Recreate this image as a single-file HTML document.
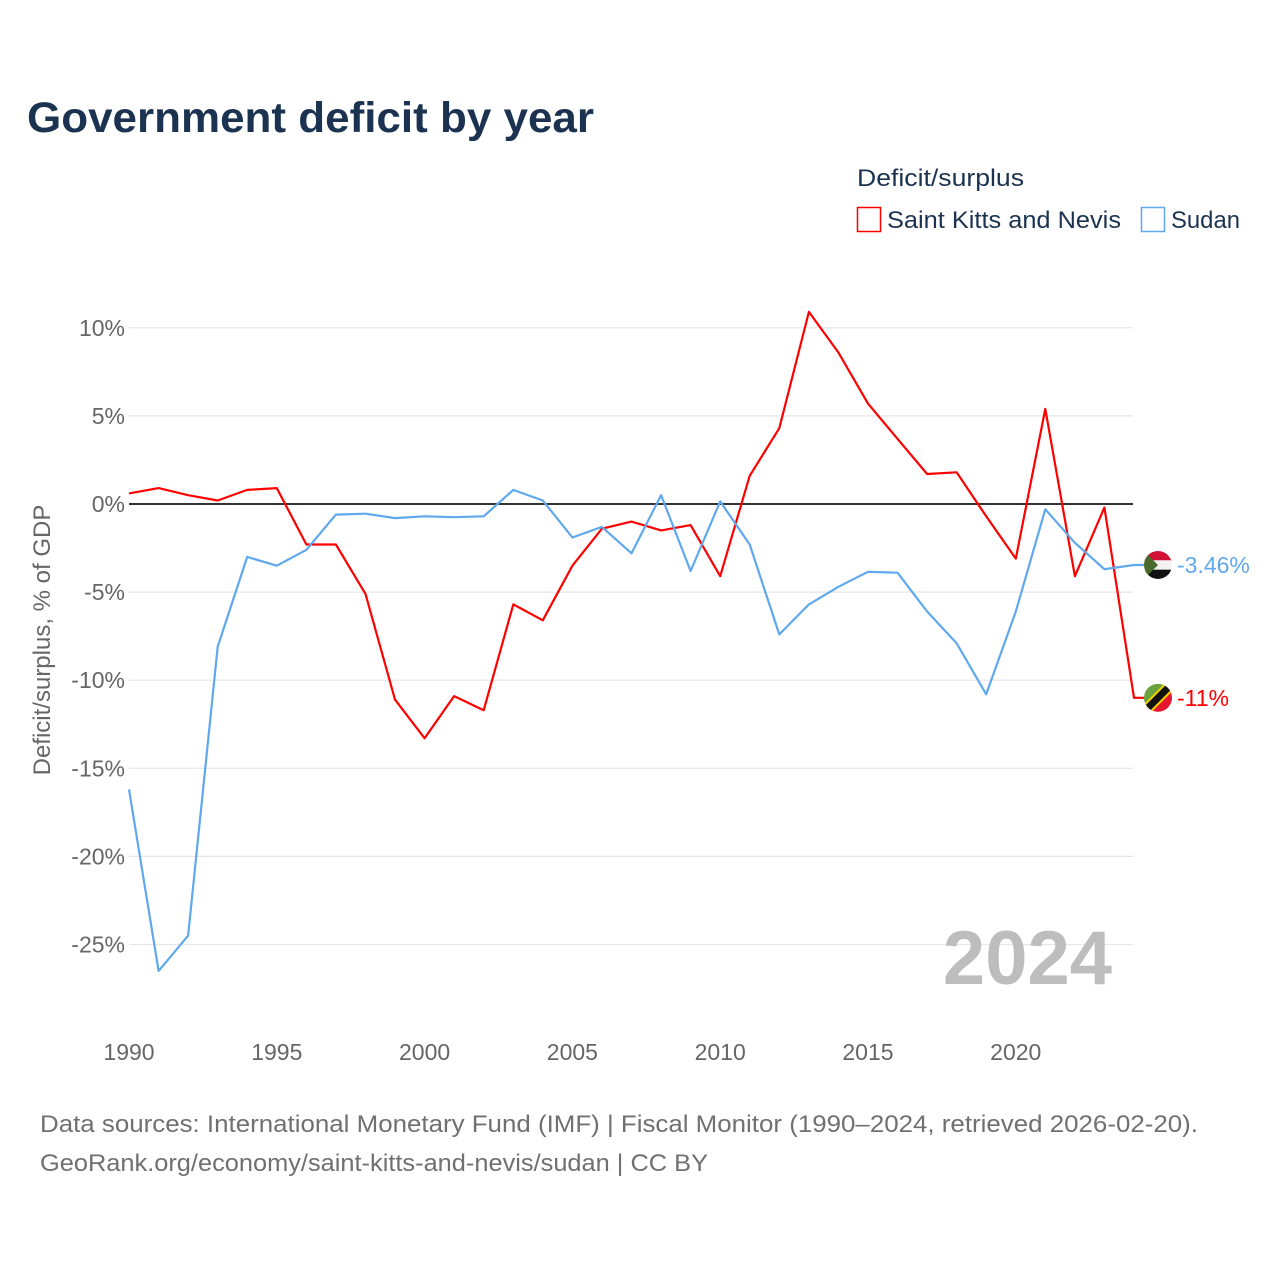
<!DOCTYPE html>
<html><head><meta charset="utf-8"><style>
html,body{margin:0;padding:0;background:#fff;}
svg{display:block;font-family:"Liberation Sans",sans-serif;}
</style></head><body>
<svg id="chart" width="1280" height="1280" viewBox="0 0 1280 1280">
<text x="27" y="132" font-size="43" font-weight="bold" fill="#1b3350" textLength="567" lengthAdjust="spacingAndGlyphs">Government deficit by year</text>
<text x="857" y="186" font-size="24" fill="#1b3350" textLength="167" lengthAdjust="spacingAndGlyphs">Deficit/surplus</text>
<g>
<rect x="857.5" y="207.5" width="23" height="24" fill="none" stroke="#ff0000" stroke-width="1.5"/>
<text x="887" y="228" font-size="24" fill="#1b3350" textLength="234" lengthAdjust="spacingAndGlyphs">Saint Kitts and Nevis</text>
</g>
<g>
<rect x="1141.5" y="207.5" width="23" height="24" fill="none" stroke="#5fa8ee" stroke-width="1.5"/>
<text x="1171" y="228" font-size="24" fill="#1b3350" textLength="69" lengthAdjust="spacingAndGlyphs">Sudan</text>
</g>
<g id="grid"></g>
<g id="yticks"></g>
<g id="xticks"></g>
<text x="1112" y="984" font-size="76" font-weight="bold" fill="#bdbdbd" text-anchor="end">2024</text>
<text transform="translate(50,640) rotate(-90)" font-size="24" fill="#666" text-anchor="middle">Deficit/surplus, % of GDP</text>
<g id="series"></g>
<g id="endmarks"></g>
<text x="40" y="1132" font-size="24" fill="#707070" textLength="1158" lengthAdjust="spacingAndGlyphs">Data sources: International Monetary Fund (IMF) | Fiscal Monitor (1990–2024, retrieved 2026-02-20).</text>
<text x="40" y="1171" font-size="24" fill="#707070" textLength="668" lengthAdjust="spacingAndGlyphs">GeoRank.org/economy/saint-kitts-and-nevis/sudan | CC BY</text>
</svg>
<script>
const years = [1990,1991,1992,1993,1994,1995,1996,1997,1998,1999,2000,2001,2002,2003,2004,2005,2006,2007,2008,2009,2010,2011,2012,2013,2014,2015,2016,2017,2018,2019,2020,2021,2022,2023,2024];
const skn = [0.6,0.9,0.5,0.2,0.8,0.9,-2.3,-2.3,-5.1,-11.1,-13.3,-10.9,-11.7,-5.7,-6.6,-3.5,-1.4,-1.0,-1.5,-1.2,-4.1,1.6,4.3,10.9,8.6,5.7,3.7,1.7,1.8,-0.7,-3.1,5.4,-4.1,-0.2,-11.0];
const sudan = [-16.2,-26.5,-24.5,-8.1,-3.0,-3.5,-2.6,-0.6,-0.55,-0.8,-0.7,-0.75,-0.7,0.8,0.2,-1.9,-1.3,-2.8,0.5,-3.8,0.15,-2.3,-7.4,-5.7,-4.7,-3.85,-3.9,-6.1,-7.9,-10.8,-6.1,-0.3,-2.2,-3.7,-3.46];
const yTicks = [10,5,0,-5,-10,-15,-20,-25];
const yTickLabels = ["10%","5%","0%","-5%","-10%","-15%","-20%","-25%"];
const xTicks = [1990,1995,2000,2005,2010,2015,2020];
const endLabels = ["-11%","-3.46%"];

const NS="http://www.w3.org/2000/svg";
const x = v => 129 + (v-1990)*(1134-129)/34;
const y = v => 504 - v*17.62;
function mk(tag, attrs, parent){const e=document.createElementNS(NS,tag);for(const k in attrs)e.setAttribute(k,attrs[k]);parent.appendChild(e);return e;}
const grid=document.getElementById('grid'), yt=document.getElementById('yticks'), xt=document.getElementById('xticks');
yTicks.forEach((t,i)=>{
  const l=mk('line',{x1:129,x2:1133,y1:y(t),y2:y(t),stroke:t===0?'#333':'#e6e6e6','stroke-width':t===0?2:1.2},grid);
  
  
  const tx=mk('text',{x:125,y:y(t)+8,'font-size':23,fill:'#666','text-anchor':'end'},yt);
  tx.textContent=yTickLabels[i];
  
  
});
xTicks.forEach(t=>{
  const tx=mk('text',{x:x(t),y:1060,'font-size':23,fill:'#666','text-anchor':'middle'},xt);
  tx.textContent=t;
  
  
});
const ser=document.getElementById('series');
[[skn,'#ff0000','line-saint-kitts'],[sudan,'#5fa8ee','line-sudan']].forEach(([d,c,n])=>{
  let p=d.map((v,i)=>(i?'L':'M')+x(years[i]).toFixed(1)+','+y(v).toFixed(1)).join(' ');
  p+=' L1145,'+y(d[d.length-1]).toFixed(1);
  const e=mk('path',{d:p,fill:'none',stroke:c,'stroke-width':2.2,'stroke-linejoin':'round'},ser);
  
  
});
const em=document.getElementById('endmarks');
// Sudan flag
const sy=y(sudan[sudan.length-1]);
const g1=mk('g',{},em);


mk('clipPath',{id:'c1'},g1).appendChild(Object.assign(document.createElementNS(NS,'circle'),{}));
g1.querySelector('clipPath circle').setAttribute('cx',1158);g1.querySelector('clipPath circle').setAttribute('cy',sy);g1.querySelector('clipPath circle').setAttribute('r',14);
const f1=mk('g',{'clip-path':'url(#c1)'},g1);
mk('rect',{x:1144,y:sy-14,width:28,height:10,fill:'#d21034'},f1);
mk('rect',{x:1144,y:sy-4.7,width:28,height:9.4,fill:'#f2f2f2'},f1);
mk('rect',{x:1144,y:sy+4.7,width:28,height:10,fill:'#111'},f1);
mk('polygon',{points:`1144,${sy-14} 1158,${sy} 1144,${sy+14}`,fill:'#4b6b2d'},f1);
const t1=mk('text',{x:1177,y:sy+8,'font-size':23,fill:'#5fa8ee'},em);
t1.textContent=endLabels[1];


// SKN flag
const ky=y(skn[skn.length-1]);
const g2=mk('g',{},em);


const cp=mk('clipPath',{id:'c2'},g2);mk('circle',{cx:1158,cy:ky,r:14},cp);
const f2=mk('g',{'clip-path':'url(#c2)'},g2);
mk('polygon',{points:`1144,${ky+14} 1144,${ky-14} 1172,${ky-14}`,fill:'#6aa33d'},f2);
mk('polygon',{points:`1144,${ky+14} 1172,${ky-14} 1172,${ky+14}`,fill:'#e3172d'},f2);
mk('line',{x1:1144,y1:ky+14,x2:1172,y2:ky-14,stroke:'#f5d000','stroke-width':11},f2);
mk('line',{x1:1144,y1:ky+14,x2:1172,y2:ky-14,stroke:'#111','stroke-width':7},f2);
const t2=mk('text',{x:1177,y:ky+8,'font-size':23,fill:'#ff0000'},em);
t2.textContent=endLabels[0];


</script>
</body></html>
